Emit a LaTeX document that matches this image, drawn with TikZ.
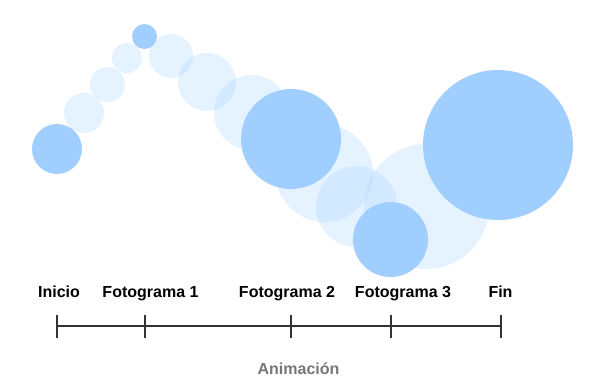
\documentclass[tikz,border=0pt]{standalone}
\usepackage{fontspec}
\setmainfont{Liberation Sans}
\definecolor{bub}{HTML}{A0CFFF}
\definecolor{axis}{HTML}{333333}
\definecolor{cap}{HTML}{777777}
\tikzset{
  ghost/.style={circle, inner sep=0pt, fill=bub, fill opacity=0.27, draw=none},
  solid/.style={circle, inner sep=0pt, fill=bub, draw=none},
  lbl/.style={anchor=base, font=\bfseries\fontsize{16}{18}\selectfont, text=black, inner sep=0pt},
  tick/.style={draw=axis, line width=2pt},
}
\begin{document}
\begin{tikzpicture}[x=1pt,y=-1pt]
\useasboundingbox (0,0) rectangle (605,389);
% ghost trail
\node[ghost, minimum size=40pt] (g1) at (84,113) {};
\node[ghost, minimum size=35pt] (g2) at (107.5,84.5) {};
\node[ghost, minimum size=30pt] (g3) at (127,58) {};
\node[ghost, minimum size=44pt] (g4) at (171,56) {};
\node[ghost, minimum size=58pt] (g5) at (207,82) {};
\node[ghost, minimum size=75pt] (g6) at (251.5,112.5) {};
\node[ghost, minimum size=97pt] (g7) at (324.5,173.5) {};
\node[ghost, minimum size=81pt] (g8) at (356.5,206.5) {};
\node[ghost, minimum size=125pt] (g9) at (426.5,206.5) {};
% keyframes
\node[solid, minimum size=50pt] (k0) at (57,149) {};
\node[solid, minimum size=25pt] (k1) at (144.5,36.5) {};
\node[solid, minimum size=100pt] (k2) at (291,139) {};
\node[solid, minimum size=75pt] (k3) at (390.5,239.5) {};
\node[solid, minimum size=150pt] (k4) at (498,145) {};
% timeline
\coordinate (t0) at (57,326);
\coordinate (t1) at (145,326);
\coordinate (t2) at (291,326);
\coordinate (t3) at (391,326);
\coordinate (t4) at (501,326);
\draw[tick] (t0) -- (t4);
\foreach \t in {t0,t1,t2,t3,t4}
  \draw[tick] ([yshift=-12pt]\t) -- ([yshift=11pt]\t);
\node[lbl] (l0) at (59,297) {Inicio};
\node[lbl] (l1) at (150.5,297) {Fotograma 1};
\node[lbl] (l2) at (287,297) {Fotograma 2};
\node[lbl] (l3) at (403,297) {Fotograma 3};
\node[lbl] (l4) at (500.5,297) {Fin};
\node[lbl, text=cap] (ttl) at (298.5,374) {Animación};
\end{tikzpicture}
\end{document}
